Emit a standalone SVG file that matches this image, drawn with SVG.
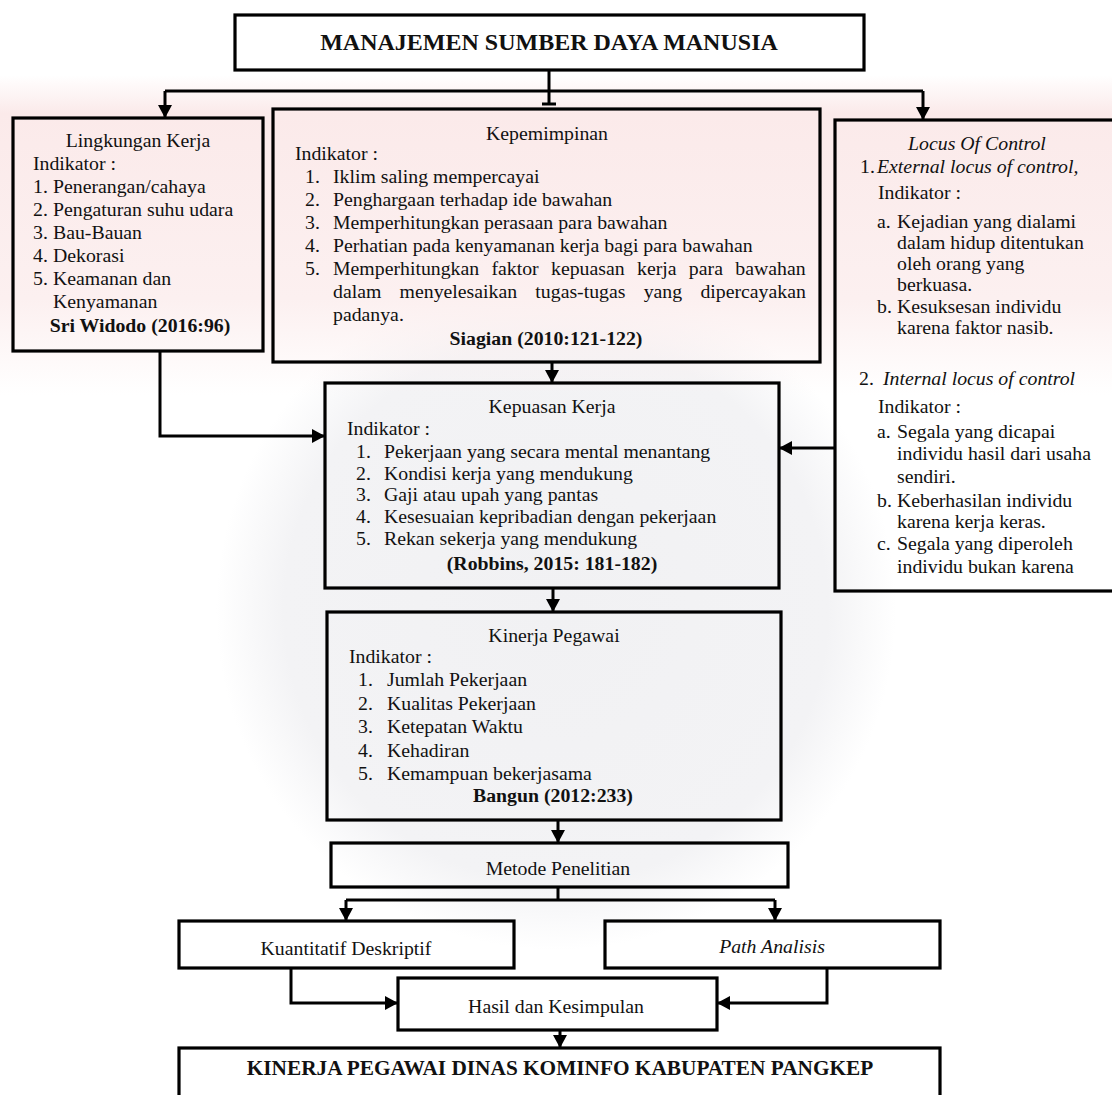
<svg xmlns="http://www.w3.org/2000/svg" width="1112" height="1095" viewBox="0 0 1112 1095">
<style>
text{font-family:"Liberation Serif","Times New Roman",serif;font-size:19.8px;fill:#111}
.b{font-weight:bold}
.i{font-style:italic}
.c{text-anchor:middle}
.box{fill:none;stroke:#000;stroke-width:3.2}
.ln{fill:none;stroke:#000;stroke-width:3}
</style>
<defs>
<marker id="ah" markerUnits="userSpaceOnUse" markerWidth="14" markerHeight="14" refX="13" refY="7" orient="auto">
<path d="M0,0 L13,7 L0,14 z" fill="#000"/>
</marker>
<radialGradient id="wm" cx="0.5" cy="0.5" r="0.5">
<stop offset="0" stop-color="#f1f1f3"/>
<stop offset="0.8" stop-color="#f3f3f5"/>
<stop offset="1" stop-color="#f3f3f5" stop-opacity="0"/>
</radialGradient>
<linearGradient id="pk" x1="0" y1="0" x2="0" y2="1">
<stop offset="0" stop-color="#fbeaea" stop-opacity="0"/>
<stop offset="0.12" stop-color="#fbeaea"/>
<stop offset="0.7" stop-color="#fcf0f0"/>
<stop offset="1" stop-color="#fcf0f0" stop-opacity="0"/>
</linearGradient>
</defs>
<rect width="1112" height="1095" fill="#fff"/>
<g id="background-tint">
<circle cx="556" cy="610" r="340" fill="url(#wm)"/>
<rect x="0" y="75" width="1112" height="320" fill="url(#pk)"/>
</g>

<g id="connectors">
<path class="ln" d="M549,70 V104 M542,104 H556"/>
<path class="ln" d="M165,91 H923"/>
<path class="ln" d="M165,91 V118" marker-end="url(#ah)"/>
<path class="ln" d="M923,91 V120" marker-end="url(#ah)"/>
<path class="ln" d="M160,351 V436 H325" marker-end="url(#ah)"/>
<path class="ln" d="M552,362 V383" marker-end="url(#ah)"/>
<path class="ln" d="M835,448 H779" marker-end="url(#ah)"/>
<path class="ln" d="M553,588 V612" marker-end="url(#ah)"/>
<path class="ln" d="M558,820 V843" marker-end="url(#ah)"/>
<path class="ln" d="M558,887 V900 M346,900 H775"/>
<path class="ln" d="M346,900 V921" marker-end="url(#ah)"/>
<path class="ln" d="M775,900 V921" marker-end="url(#ah)"/>
<path class="ln" d="M291,968 V1003 H398" marker-end="url(#ah)"/>
<path class="ln" d="M827,968 V1003 H717" marker-end="url(#ah)"/>
<path class="ln" d="M560,1030 V1048" marker-end="url(#ah)"/>
</g>

<g id="msdm">
<rect class="box" x="235" y="15" width="629" height="55"/>
<text class="b c" x="549" y="50" style="font-size:24px">MANAJEMEN SUMBER DAYA MANUSIA</text>
</g>

<g id="lingkungan">
<rect class="box" x="13" y="118" width="250" height="233"/>
<text class="c" x="138" y="147">Lingkungan Kerja</text>
<text x="33" y="170">Indikator :</text>
<text x="33" y="193">1.</text><text x="53" y="193">Penerangan/cahaya</text>
<text x="33" y="216">2.</text><text x="53" y="216">Pengaturan suhu udara</text>
<text x="33" y="239">3.</text><text x="53" y="239">Bau-Bauan</text>
<text x="33" y="262">4.</text><text x="53" y="262">Dekorasi</text>
<text x="33" y="285">5.</text><text x="53" y="285">Keamanan dan</text>
<text x="53" y="308">Kenyamanan</text>
<text class="b c" x="140" y="332">Sri Widodo (2016:96)</text>
</g>

<g id="kepemimpinan">
<rect class="box" x="273" y="109" width="547" height="253"/>
<text class="c" x="547" y="140">Kepemimpinan</text>
<text x="295" y="160">Indikator :</text>
<text x="305" y="183">1.</text><text x="333" y="183">Iklim saling mempercayai</text>
<text x="305" y="206">2.</text><text x="333" y="206">Penghargaan terhadap ide bawahan</text>
<text x="305" y="229">3.</text><text x="333" y="229">Memperhitungkan perasaan para bawahan</text>
<text x="305" y="252">4.</text><text x="333" y="252">Perhatian pada kenyamanan kerja bagi para bawahan</text>
<text x="305" y="275">5.</text><text x="333" y="275" style="word-spacing:7.4px">Memperhitungkan faktor kepuasan kerja para bawahan</text>
<text x="333" y="298" style="word-spacing:13.3px">dalam menyelesaikan tugas-tugas yang dipercayakan</text>
<text x="333" y="321">padanya.</text>
<text class="b c" x="546" y="345">Siagian (2010:121-122)</text>
</g>

<g id="locus">
<rect class="box" x="835" y="120" width="290" height="471"/>
<text class="i c" x="977" y="150">Locus Of Control</text>
<text x="860" y="173">1.</text><text class="i" x="877" y="173">External locus of control,</text>
<text x="878" y="199">Indikator :</text>
<text x="877" y="228">a.</text><text x="897" y="228">Kejadian yang dialami</text>
<text x="897" y="249">dalam hidup ditentukan</text>
<text x="897" y="270">oleh orang yang</text>
<text x="897" y="291">berkuasa.</text>
<text x="877" y="313">b.</text><text x="897" y="313">Kesuksesan individu</text>
<text x="897" y="334">karena faktor nasib.</text>
<text x="859" y="385">2.</text><text class="i" x="883" y="385">Internal locus of control</text>
<text x="878" y="413">Indikator :</text>
<text x="877" y="438">a.</text><text x="897" y="438">Segala yang dicapai</text>
<text x="897" y="460">individu hasil dari usaha</text>
<text x="897" y="483">sendiri.</text>
<text x="877" y="507">b.</text><text x="897" y="507">Keberhasilan individu</text>
<text x="897" y="528">karena kerja keras.</text>
<text x="877" y="550">c.</text><text x="897" y="550">Segala yang diperoleh</text>
<text x="897" y="573">individu bukan karena</text>
</g>

<g id="kepuasan">
<rect class="box" x="325" y="383" width="454" height="205"/>
<text class="c" x="552" y="413">Kepuasan Kerja</text>
<text x="347" y="435">Indikator :</text>
<text x="356" y="458">1.</text><text x="384" y="458">Pekerjaan yang secara mental menantang</text>
<text x="356" y="480">2.</text><text x="384" y="480">Kondisi kerja yang mendukung</text>
<text x="356" y="501">3.</text><text x="384" y="501">Gaji atau upah yang pantas</text>
<text x="356" y="523">4.</text><text x="384" y="523">Kesesuaian kepribadian dengan pekerjaan</text>
<text x="356" y="545">5.</text><text x="384" y="545">Rekan sekerja yang mendukung</text>
<text class="b c" x="552" y="570">(Robbins, 2015: 181-182)</text>
</g>

<g id="kinerja">
<rect class="box" x="327" y="612" width="454" height="208"/>
<text class="c" x="554" y="642">Kinerja Pegawai</text>
<text x="349" y="663">Indikator :</text>
<text x="358" y="686">1.</text><text x="387" y="686">Jumlah Pekerjaan</text>
<text x="358" y="710">2.</text><text x="387" y="710">Kualitas Pekerjaan</text>
<text x="358" y="733">3.</text><text x="387" y="733">Ketepatan Waktu</text>
<text x="358" y="757">4.</text><text x="387" y="757">Kehadiran</text>
<text x="358" y="780">5.</text><text x="387" y="780">Kemampuan bekerjasama</text>
<text class="b c" x="553" y="802">Bangun (2012:233)</text>
</g>

<g id="metode">
<rect class="box" x="331" y="843" width="457" height="44"/>
<text class="c" x="558" y="875">Metode Penelitian</text>
</g>

<g id="kuantitatif">
<rect class="box" x="179" y="921" width="335" height="47"/>
<text class="c" x="346" y="955">Kuantitatif Deskriptif</text>
</g>

<g id="path">
<rect class="box" x="605" y="921" width="335" height="47"/>
<text class="i c" x="772" y="953">Path Analisis</text>
</g>

<g id="hasil">
<rect class="box" x="398" y="978" width="319" height="52"/>
<text class="c" x="556" y="1013">Hasil dan Kesimpulan</text>
</g>

<g id="kinerja-dinas">
<rect class="box" x="179" y="1048" width="761" height="60"/>
<text class="b c" x="560" y="1075" style="font-size:21.3px">KINERJA PEGAWAI DINAS KOMINFO KABUPATEN PANGKEP</text>
</g>
</svg>
